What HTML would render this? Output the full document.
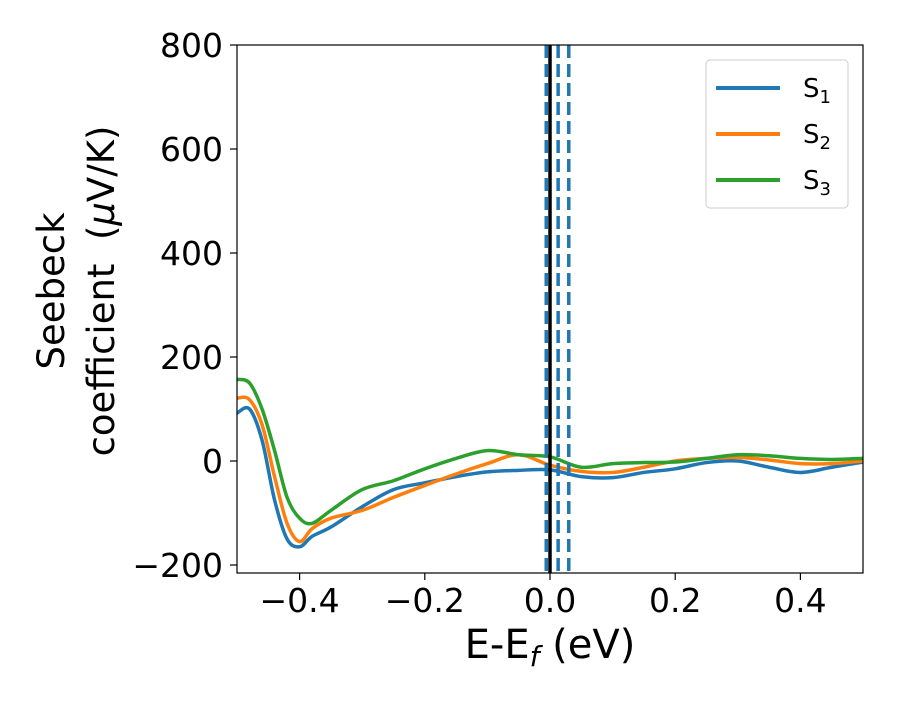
<!DOCTYPE html>
<html><head><meta charset="utf-8"><style>
body{margin:0;background:#fff;}
svg text{font-family:"DejaVu Sans","Liberation Sans",sans-serif;fill:#000;}
</style></head><body>
<svg id="chart" width="900" height="700" xmlns="http://www.w3.org/2000/svg">
<defs><clipPath id="clip"><rect x="237" y="45" width="626" height="528"/></clipPath></defs>
<g id="marks" clip-path="url(#clip)"></g>
<rect x="237" y="45" width="626" height="528" fill="none" stroke="#000" stroke-width="1.2"/>
<g id="xticks"></g><g id="yticks"></g>
<text x="550" y="658" font-size="40" text-anchor="middle">E-E<tspan font-size="28" dy="8" font-style="italic">f</tspan><tspan dy="-8"> (eV)</tspan></text>
<g transform="translate(64,291) rotate(-90)">
<text x="0" y="0" font-size="37" text-anchor="middle">Seebeck</text>
<text x="0" y="50" font-size="37" text-anchor="middle">coefficient&#160;&#160;(<tspan font-style="italic">μ</tspan>V/K)</text>
</g>
<g>
<rect x="706" y="60" width="142" height="148" rx="4" fill="#fff" stroke="#ccc" stroke-width="1"/>
<line x1="716" y1="88" x2="780" y2="88" stroke="#1f77b4" stroke-width="4"/>
<text x="803" y="97" font-size="26">S<tspan font-size="18" dy="6">1</tspan></text>
<line x1="716" y1="134" x2="780" y2="134" stroke="#ff7f0e" stroke-width="4"/>
<text x="803" y="143" font-size="26">S<tspan font-size="18" dy="6">2</tspan></text>
<line x1="716" y1="180" x2="780" y2="180" stroke="#2ca02c" stroke-width="4"/>
<text x="803" y="189" font-size="26">S<tspan font-size="18" dy="6">3</tspan></text>
</g>
</svg>
<script>
const xs=[-0.5,-0.48,-0.46,-0.44,-0.42,-0.40,-0.38,-0.35,-0.3,-0.25,-0.2,-0.15,-0.1,-0.05,0,0.05,0.1,0.15,0.2,0.25,0.3,0.35,0.4,0.45,0.5];
const s1=[92,100,40,-75,-150,-165,-145,-127,-88,-55,-42,-30,-21,-18,-17,-30,-32,-22,-15,-3,0,-12,-22,-12,-2];
const s2=[121,118,70,-30,-120,-155,-130,-110,-95,-70,-47,-25,-5,12,-8,-20,-22,-12,0,5,7,2,-5,-5,0];
const s3=[157,150,100,20,-70,-110,-120,-95,-55,-38,-15,5,20,12,8,-12,-5,-3,-2,5,12,10,5,3,5];
const vlinesDashed=[-0.006,0.013,0.03];
const vlineSolid=[0.0];
const xTicks=[-0.4,-0.2,0.0,0.2,0.4];
const xTickLabels=["−0.4","−0.2","0.0","0.2","0.4"];
const yTicks=[-200,0,200,400,600,800];
const yTickLabels=["−200","0","200","400","600","800"];
const NS="http://www.w3.org/2000/svg";
const X=v=>237+(v+0.5)*626;
const Y=v=>461-v*0.52;
function el(t,a,p){const e=document.createElementNS(NS,t);for(const k in a)e.setAttribute(k,a[k]);p.appendChild(e);return e;}
const marks=document.getElementById('marks');
function pathFor(ys){
  const p=xs.map((x,i)=>[X(x),Y(ys[i])]);
  let d=`M${p[0][0]},${p[0][1]}`;
  for(let i=0;i<p.length-1;i++){
    const p0=p[Math.max(i-1,0)],p1=p[i],p2=p[i+1],p3=p[Math.min(i+2,p.length-1)];
    const c1=[p1[0]+(p2[0]-p0[0])/6,p1[1]+(p2[1]-p0[1])/6];
    const c2=[p2[0]-(p3[0]-p1[0])/6,p2[1]-(p3[1]-p1[1])/6];
    d+=`C${c1[0]},${c1[1]} ${c2[0]},${c2[1]} ${p2[0]},${p2[1]}`;
  }
  return d;
}
[[s1,'#1f77b4','series-s1'],[s2,'#ff7f0e','series-s2'],[s3,'#2ca02c','series-s3']].forEach(([ys,c,n])=>{
  const e=el('path',{d:pathFor(ys),fill:'none',stroke:c,'stroke-width':3.5},marks);
  
  
});
vlineSolid.forEach(v=>{
  const e=el('line',{x1:X(v),x2:X(v),y1:45,y2:573,stroke:'#000','stroke-width':3.5},marks);
  
  
});
vlinesDashed.forEach(v=>{
  const e=el('line',{x1:X(v),x2:X(v),y1:45,y2:573,stroke:'#1f77b4','stroke-width':3.5,'stroke-dasharray':'13 6'},marks);
  
  
});
const xt=document.getElementById('xticks');
xTicks.forEach((v,i)=>{
  el('line',{x1:X(v),x2:X(v),y1:573,y2:580,stroke:'#000','stroke-width':1.2},xt);
  const t=el('text',{x:X(v),y:612,'font-size':33,'text-anchor':'middle'},xt);
  t.textContent=xTickLabels[i];
  
  
});
const yt=document.getElementById('yticks');
yTicks.forEach((v,i)=>{
  el('line',{x1:230,x2:237,y1:Y(v),y2:Y(v),stroke:'#000','stroke-width':1.2},yt);
  const t=el('text',{x:223,y:Y(v)+12,'font-size':33,'text-anchor':'end'},yt);
  t.textContent=yTickLabels[i];
  
  
});
</script>
</body></html>
